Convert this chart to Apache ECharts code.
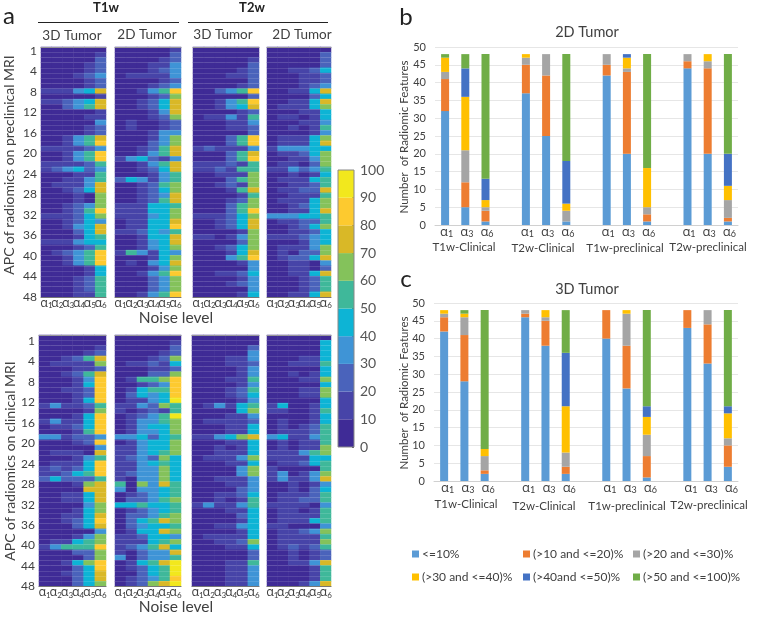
<!DOCTYPE html>
<html><head><meta charset="utf-8">
<script src="https://cdn.jsdelivr.net/npm/echarts@6/dist/echarts.min.js"></script>
<style>html,body{margin:0;padding:0;background:#fff}#c{width:772px;height:624px}</style>
</head><body><div id="c"></div>
<script>
// Heatmap values: one string per feature row, one digit per noise level (digit = 10% band)
const pre3DT1 = "000000 000001 000002 000012 000012 000123 000012 000012 111347 000001 112347 002357 000001 000011 000003 000012 000012 001357 001358 111123 001358 001358 111125 123423 000115 001135 011137 001247 000106 000106 001236 001258 111246 001243 001347 000247 000145 111344 000125 012358 001358 001358 000014 000014 000125 000125 000125 000115".split(" ");
const pre2DT1 = "000001 000002 000012 000113 000123 011113 000012 000123 001358 000126 001247 001247 000137 000126 010012 010012 000133 000136 000236 001257 001357 134213 001357 001247 000135 243135 001256 001246 001237 001257 111445 111446 111346 011447 011448 112435 001447 001347 001346 153143 000146 010347 000136 001358 000236 000236 000236 001358".split(" ");
const pre3DT2 = "000000 000000 000001 000002 000012 000112 000002 000012 002358 000002 001358 001347 000012 011315 000113 000112 000002 000258 000258 121113 000257 000258 111215 112155 001116 000256 001216 000157 000015 000126 000256 000258 111246 001247 001247 000016 110136 000026 001246 000147 000358 000013 000003 001124 000013 000123 000003 000014".split(" ");
const pre2DT2 = "000000 000002 000002 000002 001124 000112 000112 000123 001147 000024 001147 011146 000114 011014 000113 001015 000013 011146 011147 133344 011246 001136 011026 113235 001014 011145 001125 011227 001115 011146 001246 001147 333445 011225 001246 001124 111234 000134 011136 010226 012247 001103 001102 001147 000125 000125 000125 001147".split(" ");
const cli3DT1 = "000000 000000 000001 000012 001257 011116 000112 001257 000138 000148 001128 000128 000148 131125 000016 000148 131148 011248 000158 331223 000128 000003 011107 000135 011148 121248 112458 242225 000167 000077 001147 001147 000036 000146 001147 001248 000247 000003 000136 011456 135558 000226 000026 001468 000248 001247 000247 000246".split(" ");
const cli2DT1 = "000000 000001 000002 000012 000126 011214 000112 000226 015568 001238 014558 024348 011349 113265 101215 012359 013356 013446 013346 334245 013446 113446 113456 123264 113454 113364 123364 103364 506375 303345 012345 022356 445445 012345 022356 024576 023445 014476 112443 111456 123574 102337 302335 014579 012459 002459 012358 012679".split(" ");
const cli3DT2 = "000000 000000 000002 000003 000113 000112 000013 000013 000115 000013 000125 000124 000013 013145 000046 000113 011112 000114 000114 113467 000114 001014 001114 011136 000114 000036 000036 001113 000113 000023 001124 001015 131135 000114 000024 000014 001134 000014 011114 001126 000114 000002 000002 000115 000113 000113 000113 000113".split(" ");
const cli2DT2 = "000000 000004 000004 000004 000114 001115 000004 001014 000116 000004 000116 000116 000004 140014 110015 000014 010014 010125 011125 341135 010115 010116 111356 111144 011245 100005 130136 131137 001013 001024 011125 011225 111103 011015 011115 011145 110003 011236 011115 011116 012125 001012 001012 001137 000015 000015 000015 000137".split(" ");

const noiseLevels = ["α1","α2","α3","α4","α5","α6"];
const rowTickValues = [0,4,8,12,16,20,24,28,32,36,40,44,48];
const colorbarBands = [10,10,10,10,10,10,10,10,10,10];
const bandColors = ["#3f2b96","#4744a8","#4a63bb","#3f94d6","#0db4d5","#3fb89a","#84c25b","#d9b827","#fdca2f","#f2e81d"];

// Stacked bars
const barCategories = ["α1","α3","α6"];
const seriesNames = ["<=10%","(>10 and <=20)%","(>20 and <=30)%","(>30 and <=40)%","(>40and <=50)%","(>50 and <=100)%"];
const barColors = ["#5b9bd5","#ed7d31","#a5a5a5","#ffc000","#4472c4","#70ad47"];
const d2_band1 = [32,5,1,37,25,1,42,20,1,44,20,1];
const d2_band2 = [9,7,3,8,17,0,3,23,2,2,24,1];
const d2_band3 = [2,9,1,2,6,3,3,1,2,2,2,5];
const d2_band4 = [4,15,2,1,0,2,0,3,11,0,2,4];
const d2_band5 = [0,8,6,0,0,12,0,1,0,0,0,9];
const d2_band6 = [1,4,35,0,0,30,0,0,32,0,0,28];
const d3_band1 = [42,28,2,46,38,2,40,26,1,43,33,4];
const d3_band2 = [4,13,1,1,7,2,8,12,6,5,11,6];
const d3_band3 = [1,5,4,1,1,4,0,9,6,0,4,2];
const d3_band4 = [1,1,2,0,2,13,0,1,5,0,0,7];
const d3_band5 = [0,0,0,0,0,15,0,0,3,0,0,2];
const d3_band6 = [0,1,39,0,0,12,0,0,27,0,0,27];

const FONT = "Lato, 'Open Sans', sans-serif";
const TXT = "#404040";
const grids=[], xAxes=[], yAxes=[], series=[], heatIdx=[];

const alphaLabel = (aSize,sSize,margin,padLeft=0)=>({interval:0, margin, color:TXT, fontFamily:FONT, lineHeight:aSize, padding:[0,0,0,padLeft],
  formatter:v=> v ? `{a|α}{s|${v.slice(1)}}` : "",
  rich:{a:{fontSize:aSize,lineHeight:aSize,color:TXT,fontFamily:"Open Sans"},
        s:{fontSize:sSize,lineHeight:aSize,color:TXT,fontFamily:FONT,verticalAlign:"bottom",padding:[4,0,0,0]}}});

function heatPanel(rows,l,r,t,b,labelled,lo,hi){
  const g=grids.length;
  grids.push({left:l,top:t,width:r-l,height:b-t});
  const xi=xAxes.length, yi=yAxes.length;
  xAxes.push({gridIndex:g,type:"category",data:noiseLevels,position:"bottom",
    axisLine:{show:true,onZero:false,lineStyle:{color:"#777",width:1}},axisTick:{show:false},axisLabel:alphaLabel(12.5,8,0),splitLine:{show:false}});
  xAxes.push({gridIndex:g,type:"category",data:noiseLevels,position:"top",
    axisLine:{show:true,onZero:false,lineStyle:{color:"#999",width:1}},axisTick:{show:false},axisLabel:{show:false}});
  yAxes.push({gridIndex:g,type:"category",inverse:true,data:rows.map((_,i)=>i+1),show:false});
  yAxes.push({gridIndex:g,type:"value",inverse:true,min:lo,max:hi,show:labelled,position:"left",
    axisLine:{show:false},axisTick:{show:false},splitLine:{show:false},
    axisLabel:{customValues:rowTickValues,margin:4,fontSize:12,color:TXT,fontFamily:FONT,formatter:v=>String(v||1)}});
  yAxes.push({gridIndex:g,type:"value",inverse:true,min:0,max:48,interval:1,position:"right",
    axisLine:{show:false},axisTick:{show:false},axisLabel:{show:false},
    splitLine:{show:true,lineStyle:{color:"rgba(255,255,255,0.13)",width:1}}});
  const data=[];
  rows.forEach((s,y)=>[...s].forEach((d,x)=>data.push([x,y,+d*10+5])));
  heatIdx.push(series.length);
  series.push({type:"heatmap",xAxisIndex:xi,yAxisIndex:yi,data,z:-1,silent:true,progressive:0,
    itemStyle:{borderWidth:0},emphasis:{disabled:true}});
}
heatPanel(pre3DT1,41,106,47,297,true,-0.72,48.06);
heatPanel(pre2DT1,115,181,47,297,false,0,48);
heatPanel(pre3DT2,193,259,47,297,false,0,48);
heatPanel(pre2DT2,267,331,47,297,false,0,48);
heatPanel(cli3DT1,39,106,335,586.5,true,-1.2,48);
heatPanel(cli2DT1,115,181,335,586.5,false,0,48);
heatPanel(cli3DT2,192,259,335,586.5,false,0,48);
heatPanel(cli2DT2,267,331,335,586.5,false,0,48);

// Colour bar
{
  const g=grids.length;
  grids.push({left:338,top:170,width:16,height:277,show:true,borderColor:"#888",borderWidth:1,z:5});
  const xi=xAxes.length, yi=yAxes.length;
  xAxes.push({gridIndex:g,type:"category",data:[""],show:false});
  yAxes.push({gridIndex:g,type:"value",min:0,max:100,interval:10,position:"right",
    axisLine:{show:false},splitLine:{show:false},
    axisTick:{show:true,inside:true,length:2,lineStyle:{color:"#555"}},
    axisLabel:{margin:6,fontSize:14,color:"#555",fontFamily:FONT}});
  colorbarBands.forEach((v,i)=>series.push({type:"bar",stack:"cb",xAxisIndex:xi,yAxisIndex:yi,data:[v],
    barWidth:"100%",silent:true,itemStyle:{color:bandColors[i]}}));
}

function barPanel(bands,l,r,t,b,lm,padLeft){
  const g=grids.length;
  grids.push({left:l,top:t,width:r-l,height:b-t});
  const cats=[];
  for(let i=0;i<4;i++){ cats.push(...barCategories); if(i<3) cats.push(""); }
  const xi=xAxes.length, yi=yAxes.length;
  xAxes.push({gridIndex:g,type:"category",data:cats,
    axisLine:{lineStyle:{color:"#d0d0d0"}},axisTick:{show:false},
    axisLabel:alphaLabel(13,9,lm,padLeft)});
  yAxes.push({gridIndex:g,type:"value",min:0,max:50,interval:5,
    axisLine:{show:false},axisTick:{show:false},splitLine:{lineStyle:{color:"#e6e6e6"}},
    axisLabel:{fontSize:11,color:TXT,margin:9,fontFamily:FONT}});
  bands.forEach((vals,i)=>{
    const data=[]; vals.forEach((v,j)=>{ data.push(v); if(j%3===2&&j<11) data.push(null); });
    series.push({type:"bar",name:seriesNames[i],stack:"s"+g,xAxisIndex:xi,yAxisIndex:yi,data,barWidth:8,
      silent:true,itemStyle:{color:barColors[i]}});
  });
}
barPanel([d2_band1,d2_band2,d2_band3,d2_band4,d2_band5,d2_band6],435,738,47,225,1,3);
barPanel([d3_band1,d3_band2,d3_band3,d3_band4,d3_band5,d3_band6],434,738,303,481,1,7);

function text(str,x,y,size,opt={}){
  return {type:"text",x,y,rotation:opt.rot||0,silent:true,
    style:{text:str,x:0,y:0,align:opt.align||"center",verticalAlign:"middle",fontSize:size,
      fontWeight:opt.bold?"bold":"normal",fontFamily:FONT,fill:opt.fill||TXT}};
}
const rule=(x1,x2,y)=>({type:"line",silent:true,shape:{x1,y1:y,x2,y2:y},style:{stroke:"#222",lineWidth:1}});
const elements=[
  text("a",9,16,24,{fill:"#222"}),text("b",406,17,24,{fill:"#222"}),text("c",406,279,24,{fill:"#222"}),
  text("T1w",106,8,13,{bold:true,fill:"#222"}),text("T2w",252,8,13,{bold:true,fill:"#222"}),
  rule(38,179,22.5),rule(188,328,22.5),
  text("3D Tumor",72,36,13.5),text("2D Tumor",147,35,13.5),text("3D Tumor",223,35,13.5),text("2D Tumor",302,35,13.5),
  text("Noise level",176,318,15.5),text("Noise level",176,607,15.5),
  text("APC of radiomics on preclinical MRI",9,165,14,{rot:Math.PI/2}),
  text("APC of radiomics on clinical MRI",10,461,14,{rot:Math.PI/2}),
  text("2D Tumor",587,32,14.5),text("3D Tumor",587,289,14.5),
  text("Number  of Radiomic Features",404,137,11.5,{rot:Math.PI/2}),
  text("Number  of Radiomic Features",404,393,11.5,{rot:Math.PI/2}),
  text("T1w-Clinical",464,247,11.5),text("T2w-Clinical",543,248,11.5),text("T1w-preclinical",625,248,11.5),text("T2w-preclinical",708,247,11.5),
  text("T1w-Clinical",466,504,11.5),text("T2w-Clinical",544,506,11.5),text("T1w-preclinical",627,506,11.5),text("T2w-preclinical",709,505,11.5)
];
const legendCol=(names,left)=>({show:true,orient:"vertical",left,top:543,itemWidth:7,itemHeight:7,itemGap:11,selectedMode:false,
  icon:"rect",data:names,textStyle:{fontSize:12,color:TXT,fontFamily:FONT,padding:[0,0,0,-2]}});

const chart=echarts.init(document.getElementById("c"),null,{renderer:"canvas"});
chart.setOption({
  animation:false,backgroundColor:"#fff",tooltip:{show:false},
  grid:grids,xAxis:xAxes,yAxis:yAxes,series,
  visualMap:{type:"piecewise",show:false,seriesIndex:heatIdx,dimension:2,
    pieces:bandColors.map((color,i)=>({gte:i*10,lt:(i+1)*10,color}))},
  legend:[legendCol([seriesNames[0],seriesNames[3]],407),legendCol([seriesNames[1],seriesNames[4]],518),legendCol([seriesNames[2],seriesNames[5]],628)],
  graphic:{elements}
});
</script></body></html>
